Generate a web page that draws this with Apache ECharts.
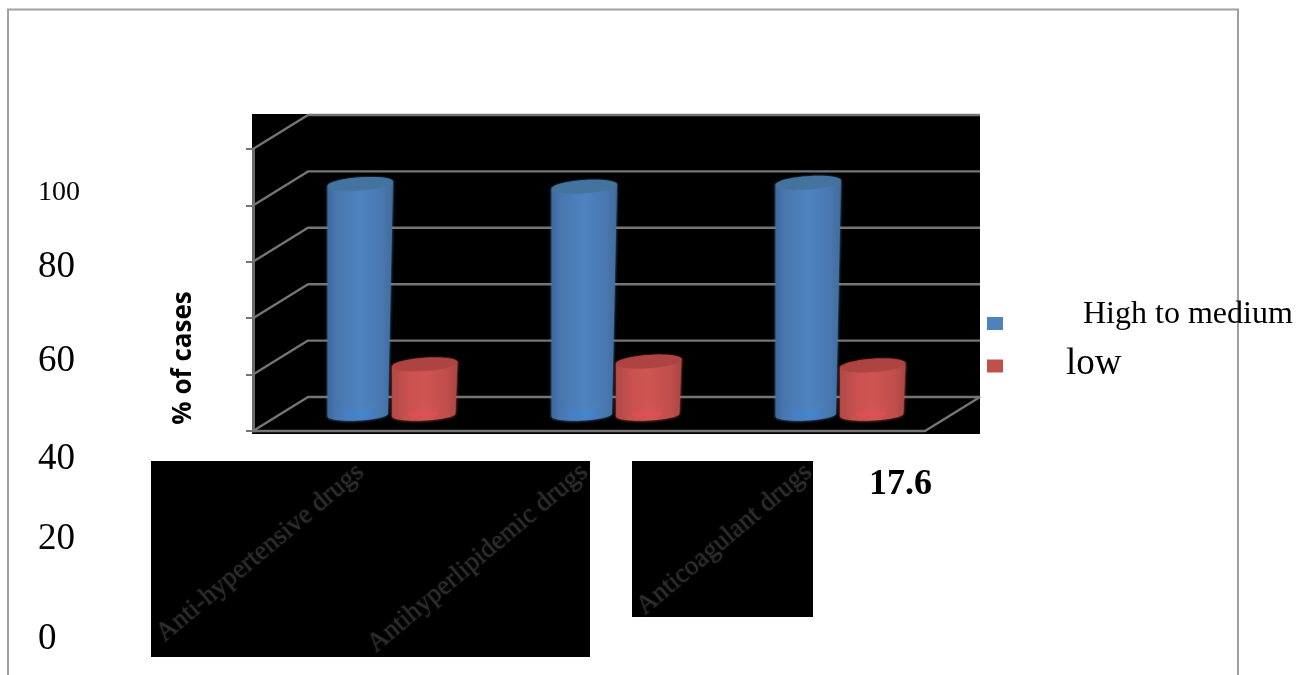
<!DOCTYPE html>
<html>
<head>
<meta charset="utf-8">
<style>html,body{margin:0;padding:0;background:#fff}#chart{width:1297px;height:675px}</style>
<script src="https://cdn.jsdelivr.net/npm/echarts@6/dist/echarts.min.js"></script>
</head>
<body>
<div id="chart"></div>
<script>
// Share of cases per drug class
const categories = ['Anti-hypertensive drugs', 'Antihyperlipidemic drugs', 'Anticoagulant drugs'];
const highToMedium = [82, 81, 82.4];
const low = [18, 19, 17.6];
const axisTicks = [0, 20, 40, 60, 80, 100];
const sideLabels = ['100', '80', '60', '40', '20', '0'];
const statedValue = '17.6';

// Page furniture placement
const sideLabelLayout = [
  { y: 193, size: 28 }, { y: 267, size: 37 }, { y: 361, size: 37 },
  { y: 459, size: 37 }, { y: 539, size: 37 }, { y: 639, size: 37 }
];
const SERIF = '"Liberation Serif", "DejaVu Serif", serif';
const GRID = { left: 253, top: 149, width: 672, height: 282 };
const DEPTH_X = 55, DEPTH_Y = 34;
const GREY = '#757575';

function ellipsePoints(cx, cy, rx, ry, shear, from, to, n) {
  const pts = [];
  for (let i = 0; i <= n; i++) {
    const t = from + (to - from) * i / n;
    pts.push([cx + rx * Math.cos(t), cy + ry * Math.sin(t) - shear * Math.cos(t)]);
  }
  return pts;
}

function hGradient(stops) {
  return {
    type: 'linear', x: 0, y: 0, x2: 1, y2: 0,
    colorStops: stops.map(s => ({ offset: s[0], color: s[1] }))
  };
}

// Cylinder standing at mid depth of the floor; side picks its slot within the band
function cylinder(side, taper, body, cap, glow) {
  return function (params, api) {
    const band = api.size([1, 0])[0];
    const base = api.coord([api.value(0), 0]);
    const top = api.coord([api.value(0), api.value(1)]);
    const cx = base[0] + DEPTH_X / 2 + side * band * 0.144;
    const yBase = base[1] - DEPTH_Y / 2 + 1;
    const yTop = top[1] - DEPTH_Y / 2 + 1;
    const rx = band * 0.146;
    const rxB = rx - taper / 2;
    const cxB = cx - taper / 2;
    const shell = ellipsePoints(cx, yTop, rx, 6.5, 2.2, Math.PI, 2 * Math.PI, 1)
      .concat(ellipsePoints(cxB, yBase, rxB, 5.5, 1.5, 0, Math.PI, 24));
    return {
      type: 'group',
      children: [
        { type: 'polygon', shape: { points: shell },
          style: { fill: hGradient(body), shadowBlur: 3, shadowColor: body[2][1] } },
        { type: 'polygon', shape: { points: ellipsePoints(cxB, yBase - 1, rxB * 0.5, 3, 0.8, 0, 2 * Math.PI, 32) },
          style: { fill: glow, opacity: 0.4, shadowBlur: 6, shadowColor: glow } },
        { type: 'polygon', shape: { points: ellipsePoints(cx, yTop, rx, 6.5, 2.2, 0, 2 * Math.PI, 40) },
          style: { fill: cap, shadowBlur: 2, shadowColor: cap } }
      ]
    };
  };
}

// Side wall and back wall rules for one axis value
function wallRule(params, api) {
  const sys = params.coordSys;
  const y = api.coord([0, api.value(1)])[1];
  const points = [[sys.x, y], [sys.x + DEPTH_X, y - DEPTH_Y], [sys.x + sys.width + DEPTH_X, y - DEPTH_Y]];
  if (api.value(1) === 0) points.push([sys.x + sys.width, y]);
  return {
    type: 'polyline', shape: { points },
    style: { stroke: GREY, lineWidth: 2.4, fill: 'none', lineJoin: 'bevel' }
  };
}

const furniture = [
  // page frame, open at the bottom
  { type: 'polyline', z: -5, shape: { points: [[8, 675], [8, 9.5], [1238, 9.5], [1238, 675]] },
    style: { stroke: '#a0a0a0', lineWidth: 2, fill: 'none' } },
  // dark plot panel and label panels
  { type: 'rect', z: -4, shape: { x: 252, y: 114, width: 728, height: 320 }, style: { fill: '#000' } },
  { type: 'rect', z: -4, shape: { x: 151, y: 461, width: 439, height: 196 }, style: { fill: '#000' } },
  { type: 'rect', z: -4, shape: { x: 632, y: 461, width: 181, height: 156 }, style: { fill: '#000' } },
  { type: 'text', rotation: Math.PI / 2, x: 184, y: 358,
    style: { text: '% of cases', font: 'bold 26px "Open Sans", sans-serif', fill: '#000', align: 'center', verticalAlign: 'middle' } },
  { type: 'text', x: 869, y: 485,
    style: { text: statedValue, font: 'bold 36px ' + SERIF, fill: '#000', align: 'left', verticalAlign: 'middle' } }
].concat(sideLabels.map((t, i) => ({
  type: 'text', x: 38, y: sideLabelLayout[i].y,
  style: { text: t, font: sideLabelLayout[i].size + 'px ' + SERIF, fill: '#000', align: 'left', verticalAlign: 'middle' }
})));

const chart = echarts.init(document.getElementById('chart'), null, { renderer: 'canvas' });
chart.setOption({
  animation: false,
  backgroundColor: '#fff',
  graphic: { elements: furniture },
  grid: Object.assign({ show: false }, GRID),
  legend: {
    orient: 'vertical', left: 987, top: 299, padding: 0, itemWidth: 16, itemHeight: 13, itemGap: -2.5, itemStyle: { borderWidth: 0 },
    data: [{ name: 'High to medium', icon: 'rect' }, { name: 'low', icon: 'rect' }],
    selectedMode: false,
    formatter: n => n === 'low' ? '{lo|' + n + '}' : '{hi|' + n + '}',
    textStyle: {
      rich: {
        hi: { fontFamily: SERIF, fontSize: 32, color: '#000', lineHeight: 36, padding: [0, 0, 17, 75] },
        lo: { fontFamily: SERIF, fontSize: 37, color: '#000', lineHeight: 40, padding: [0, 0, 4, 58] }
      }
    }
  },
  xAxis: {
    type: 'category', data: categories,
    axisLine: { lineStyle: { color: GREY, width: 2.4 } },
    axisTick: { show: false },
    axisLabel: {
      interval: 0, rotate: 40, margin: 34, padding: [0, 6, 0, 0], color: '#2c2c2c', fontFamily: SERIF, fontSize: 27, hideOverlap: false,
      textShadowBlur: 2, textShadowColor: '#2c2c2c'
    }
  },
  yAxis: {
    type: 'value', min: 0, max: 100, interval: 20,
    axisLine: { show: true, lineStyle: { color: '#6a6a6a', width: 3 } },
    axisTick: { show: true, length: 7, lineStyle: { color: GREY, width: 2 } },
    axisLabel: { show: false },
    splitLine: { show: false }
  },
  series: [
    { type: 'custom', name: 'walls', silent: true, renderItem: wallRule, encode: { x: 0, y: 1 },
      data: axisTicks.map(v => [0, v]), z: 1 },
    { type: 'custom', name: 'High to medium', itemStyle: { color: '#4f81bd' }, encode: { x: 0, y: 1 }, z: 2,
      renderItem: cylinder(-1, 5,
        [[0, '#3f6a9a'], [0.12, '#4776ad'], [0.5, '#4f83c2'], [0.85, '#4877ae'], [1, '#426c99']],
        '#44739f', '#3a86d6'),
      data: highToMedium.map((v, i) => [i, v]) },
    { type: 'custom', name: 'low', itemStyle: { color: '#c0504d' }, encode: { x: 0, y: 1 }, z: 3,
      renderItem: cylinder(1, 2,
        [[0, '#b04a47'], [0.25, '#c9514e'], [0.5, '#d05552'], [0.85, '#c04d4a'], [1, '#a94643']],
        '#ad4441', '#e8505a'),
      data: low.map((v, i) => [i, v]) }
  ]
});
</script>
</body>
</html>
